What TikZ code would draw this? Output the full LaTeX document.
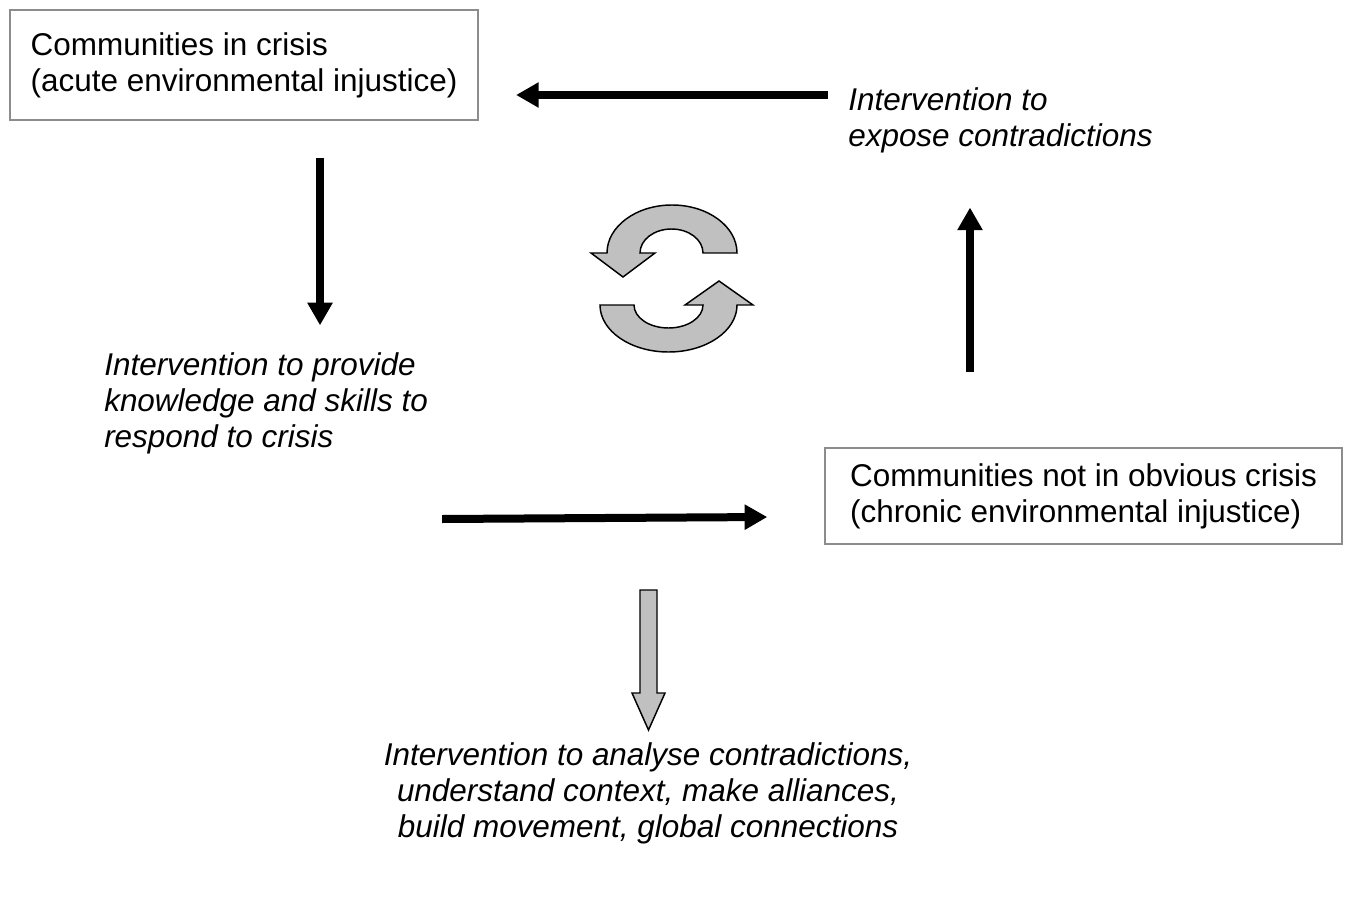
\documentclass[tikz,border=0pt]{standalone}
\usepackage{fontspec}
\setmainfont{Liberation Sans}
\usetikzlibrary{arrows.meta,calc}
\definecolor{arrowgray}{RGB}{192,192,192}
\definecolor{boxgray}{RGB}{140,140,140}
\begin{document}
\begin{tikzpicture}[x=0.75pt,y=-0.75pt,
  cbox/.style={draw=boxgray, line width=1.1pt, align=left, inner sep=0pt,
    font=\fontsize{23.6pt}{27pt}\selectfont},
  itext/.style={align=left, inner sep=0pt, font=\fontsize{23.6pt}{27pt}\selectfont\itshape},
  blkarrow/.style={line width=6pt, -{Triangle[length=17pt,width=18pt]}},
  grayshape/.style={fill=arrowgray, draw=black, line width=1.1pt, line join=miter}]

\useasboundingbox[fill=white] (0,0) rectangle (1348,902);

% boxes
\node[cbox, minimum width=351pt, minimum height=82.5pt] (c1) at (244,65)
  {Communities in crisis\\(acute environmental injustice)};
\node[cbox, minimum width=387.75pt, minimum height=72pt] (c2) at (1083.5,496)
  {Communities not in obvious crisis\\(chronic environmental injustice)};

% italic labels
\node[itext, anchor=north west] (t1) at (848,87)
  {Intervention to\\expose contradictions};
\node[itext, anchor=north west] (t2) at (104,352)
  {Intervention to provide\\knowledge and skills to\\respond to crisis};
\node[itext, anchor=north, align=center] (t3) at (648,742)
  {Intervention to analyse contradictions,\\understand context, make alliances,\\build movement, global connections};

% black connectors
\draw[blkarrow] ([xshift=-15pt]t1.north west |- 0,95) -- ([xshift=28pt]c1.east |- 0,95);
\draw[blkarrow] ([yshift=-27.75pt]c1.south -| 320,0) -- ([yshift=20pt]t2.north -| 320,0);
\draw[blkarrow] ([yshift=56.25pt]c2.north -| 970,0) -- ([yshift=-41pt]t1.south -| 970,0);
\draw[blkarrow] ([xshift=10.5pt]t2.east |- 0,519) -- ([xshift=-42.75pt]c2.west |- 0,517);

% gray block arrow down
\draw[grayshape] (640,590) -- (657,590) -- (657,693) -- (665,693) -- (648.5,730)
  -- (632,693) -- (640,693) -- cycle;

% circular arrows
\draw[grayshape] (703,253) -- (737,253)
  .. controls (737,226.5) and (707.9,205) .. (672,205)
  .. controls (636.1,205) and (607,226.5) .. (607,253)
  -- (591,253) -- (623,277) -- (655,253) -- (640,253)
  .. controls (640,239.7) and (654.1,229) .. (671.5,229)
  .. controls (688.9,229) and (703,239.7) .. (703,253) -- cycle;
\draw[grayshape] (600,305) -- (634,305)
  .. controls (634,317.7) and (649.4,328) .. (668.5,328)
  .. controls (687.6,328) and (703,317.7) .. (703,305)
  -- (685,305) -- (719,281) -- (753,305) -- (737,305)
  .. controls (737,331) and (706.3,352) .. (668.5,352)
  .. controls (630.7,352) and (600,331) .. (600,305) -- cycle;
\end{tikzpicture}
\end{document}
